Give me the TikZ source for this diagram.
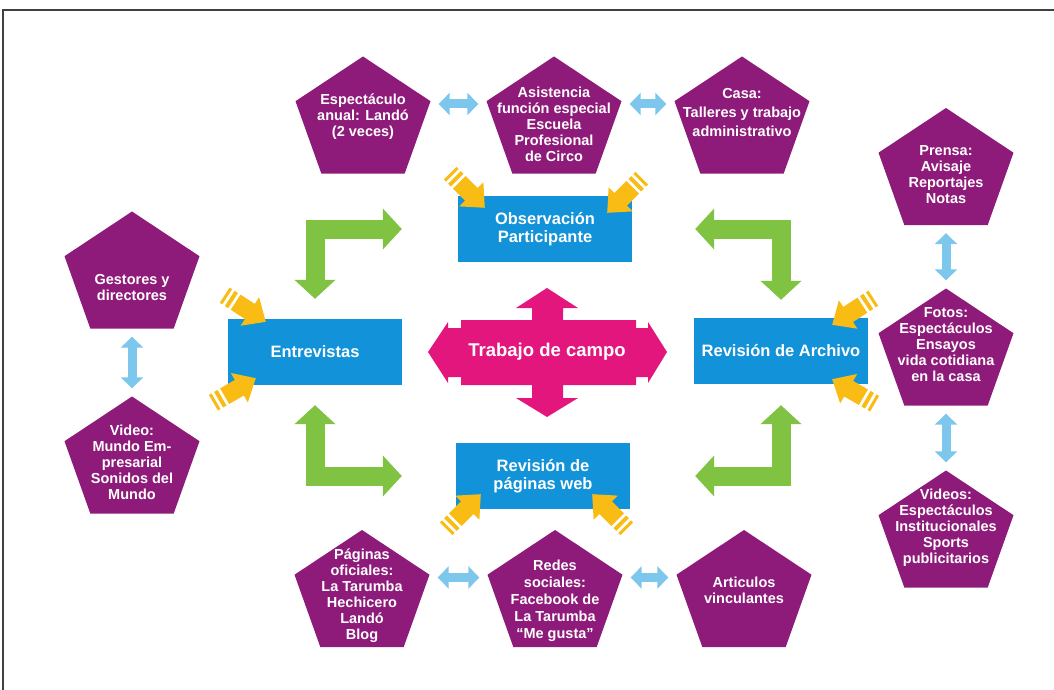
\documentclass[tikz,border=0pt]{standalone}
\usepackage{fontspec}
\setmainfont{Liberation Sans}
\usetikzlibrary{arrows.meta}

\definecolor{purpura}{RGB}{142,27,122}
\definecolor{azulcaja}{RGB}{18,146,216}
\definecolor{rosa}{RGB}{226,22,125}
\definecolor{verdeL}{RGB}{128,194,66}
\definecolor{celeste}{RGB}{125,198,236}
\definecolor{amarillo}{RGB}{248,188,20}

% flecha amarilla con cola rayada: punta, angulo
\newcommand{\flechaam}[2]{%
  \begin{scope}[shift={#1},rotate=#2]
    \fill[amarillo] (0,0) -- (-19,17) -- (-19,9) -- (-36,9) -- (-36,-9) -- (-19,-9) -- (-19,-17) -- cycle;
    \fill[amarillo] (-39,9) rectangle (-43,-9);
    \fill[amarillo] (-46,9) rectangle (-49,-9);
  \end{scope}}

\begin{document}
\begin{tikzpicture}[x=1pt,y=-1pt,line join=miter,
    pent/.style={minimum width=135pt,minimum height=117pt,inner sep=0pt,
      path picture={\fill[purpura] (path picture bounding box.north)
        -- ([yshift=13.8pt]path picture bounding box.east)
        -- ([xshift=41.7pt]path picture bounding box.south)
        -- ([xshift=-41.7pt]path picture bounding box.south)
        -- ([yshift=13.8pt]path picture bounding box.west) -- cycle;}},
    textopent/.style={text=white,align=center,inner sep=0pt,
      font=\fontsize{14.5}{16}\selectfont\bfseries},
    caja/.style={fill=azulcaja,text=white,minimum width=174pt,minimum height=66pt,
      inner sep=0pt,align=center,font=\fontsize{16.5}{18.5}\selectfont\bfseries},
    flechaverde/.style={draw=verdeL,line width=19pt,
      {Triangle[width=40pt,length=19pt]}-{Triangle[width=40pt,length=19pt]}},
    dobleazul/.style={draw=celeste,line width=9pt,
      {Triangle[width=22pt,length=11pt]}-{Triangle[width=22pt,length=11pt]},
      shorten <=8pt,shorten >=8pt}]
\useasboundingbox (0,0) rectangle (1054,690);
\draw[line width=1.6pt,black!75] (3,690) -- (3,10) -- (1054,10);

% pentagonos de arriba
\node[pent] (esp) at (363,115) {};
\node[textopent] (esp-t) at ([yshift=-2pt]esp.center) {Espectáculo\\anual: Landó\\(2 veces)};
\node[pent] (asis) at (554,115) {};
\node[textopent] (asis-t) at ([yshift=-9.5pt]asis.center) {Asistencia\\función especial\\Escuela\\Profesional\\de Circo};
\node[pent] (casa) at (742,115) {};
\node[textopent] (casa-t) at ([yshift=2pt]casa.center) {Casa:\\[3pt]Talleres y trabajo\\[3pt]administrativo};

% pentagonos de la derecha
\node[pent] (prensa) at (946,166.5) {};
\node[textopent] (prensa-t) at ([yshift=-8.5pt]prensa.center) {Prensa:\\Avisaje\\Reportajes\\Notas};
\node[pent] (fotos) at (946,347) {};
\node[textopent] (fotos-t) at ([yshift=2pt]fotos.center) {Fotos:\\Espectáculos\\Ensayos\\vida cotidiana\\en la casa};
\node[pent] (videos) at (946,529) {};
\node[textopent] (videos-t) at ([yshift=1pt]videos.center) {Videos:\\Espectáculos\\Institucionales\\Sports\\publicitarios};

% pentagonos de la izquierda
\node[pent] (gest) at (132,270) {};
\node[textopent] (gest-t) at ([yshift=-18pt]gest.center) {Gestores y\\directores};
\node[pent] (video) at (132,455) {};
\node[textopent] (video-t) at ([yshift=-7pt]video.center) {Video:\\Mundo Em-\\presarial\\Sonidos del\\Mundo};

% pentagonos de abajo
\node[pent] (pag) at (362,588.5) {};
\node[textopent] (pag-t) at ([yshift=-7pt]pag.center) {Páginas\\oficiales:\\La Tarumba\\Hechicero\\Landó\\Blog};
\node[pent] (redes) at (555,588.5) {};
\node[textopent] (redes-t) at ([yshift=-12pt]redes.center) {Redes\\[1pt]sociales:\\[1pt]Facebook de\\[1pt]La Tarumba\\[1pt]“Me gusta”};
\node[pent] (art) at (744,588.5) {};
\node[textopent] (art-t) at ([yshift=-1.5pt]art.center) {Articulos\\vinculantes};

% flechas celestes
\draw[dobleazul] ([yshift=11pt]esp.east) -- ([yshift=11pt]asis.west);
\draw[dobleazul] ([yshift=11pt]asis.east) -- ([yshift=11pt]casa.west);
\draw[dobleazul] (prensa) -- (fotos);
\draw[dobleazul] (fotos) -- (videos);
\draw[dobleazul] (gest) -- (video);
\draw[dobleazul] ([yshift=11pt]pag.east) -- ([yshift=11pt]redes.west);
\draw[dobleazul] ([yshift=11pt]redes.east) -- ([yshift=11pt]art.west);

% cajas
\node[caja] (obs) at (545,229) {Observación\\Participante};
\node[caja] (ent) at (315,352) {Entrevistas};
\node[caja] (arch) at (781,351) {Revisión de Archivo};
\node[caja] (web) at (543,476) {Revisión de\\páginas web};

% cruz central
\fill[rosa] (461,320) -- (461,328) -- (448,328) -- (448,322) -- (428,352) -- (448,383)
  -- (448,377) -- (461,377) -- (461,385) -- (532,385) -- (532,398) -- (516,398)
  -- (547,417) -- (578,398) -- (563,398) -- (563,385) -- (636,385) -- (636,377)
  -- (648,377) -- (648,383) -- (667,352) -- (648,322) -- (648,328) -- (636,328)
  -- (636,320) -- (563,320) -- (563,308) -- (578,308) -- (547,288) -- (516,308)
  -- (532,308) -- (532,320) -- cycle;
\node[text=white,font=\fontsize{18.5}{20}\selectfont\bfseries] (centro) at (547,352) {Trabajo de campo};

% flechas verdes
\draw[flechaverde,shorten <=20pt,shorten >=56pt] (ent) |- (obs);
\draw[flechaverde,shorten <=18pt,shorten >=63pt] (arch) |- (obs);
\draw[flechaverde,shorten <=20pt,shorten >=54pt] (ent) |- (web);
\draw[flechaverde,shorten <=21pt,shorten >=65pt] (arch) |- (web);

% flechas amarillas
\flechaam{([xshift=27pt,yshift=-12pt]obs.north west)}{-45}
\flechaam{([xshift=-25pt,yshift=-17pt]obs.north east)}{-135}
\flechaam{([xshift=38pt,yshift=-3pt]ent.north west)}{-33}
\flechaam{([xshift=28pt,yshift=7pt]ent.south west)}{30}
\flechaam{([xshift=-36pt,yshift=-7pt]arch.north east)}{-147}
\flechaam{([xshift=-36pt,yshift=5pt]arch.south east)}{150}
\flechaam{([xshift=25pt,yshift=15pt]web.south west)}{45}
\flechaam{([xshift=-38pt,yshift=15pt]web.south east)}{135}
\end{tikzpicture}
\end{document}
